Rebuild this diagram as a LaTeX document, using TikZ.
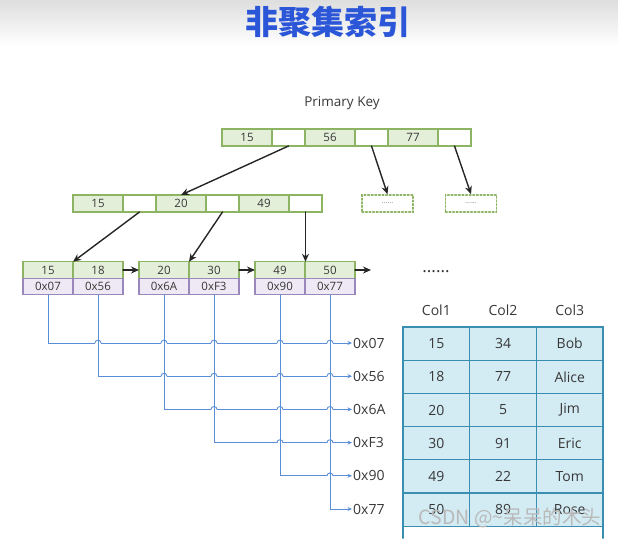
\documentclass[tikz,border=0pt]{standalone}
\usepackage{fontspec}
\setmainfont{Open Sans}
\newfontfamily\cjk{Noto Sans CJK SC}
\usetikzlibrary{positioning, calc}
\usetikzlibrary{arrows.meta}

\definecolor{keyfill}{HTML}{E4EFDA}
\definecolor{keydraw}{HTML}{8DB462}
\definecolor{ptrfill}{HTML}{EEE9F4}
\definecolor{ptrdraw}{HTML}{9A88BC}
\definecolor{tabfill}{HTML}{D3EBF3}
\definecolor{tabdraw}{HTML}{3A8EB2}
\definecolor{linkblue}{HTML}{5A8DD8}
\definecolor{titleblue}{HTML}{2C56D8}
\definecolor{txt}{HTML}{383838}

\tikzset{
  cell/.style={draw, outer sep=0pt, inner sep=0pt, line width=1.2, text=txt,
    font=\fontsize{11.5}{12}\selectfont},
  keycell/.style={cell, draw=keydraw, fill=keyfill, minimum width=50, minimum height=17},
  emptycell/.style={cell, draw=keydraw, fill=white, minimum width=33, minimum height=17},
  leafkey/.style={keycell, minimum height=16.5},
  ptrcell/.style={cell, draw=ptrdraw, fill=ptrfill, minimum width=50, minimum height=16.5},
  dotbox/.style={draw=keydraw, dotted, line width=1.6, minimum width=51, minimum height=17,
    inner sep=0pt, text=gray, font=\fontsize{7.5}{7.5}\selectfont},
  arr/.style={-{Stealth[length=8pt,width=7pt]}, line width=1.4, draw=black!85},
  link/.style={-{Stealth[length=4.5pt,width=4pt]}, line width=0.9, draw=linkblue},
  hop/.style={line width=0.9, draw=linkblue},
  addr/.style={anchor=west, inner sep=1pt, text=txt, font=\fontsize{14}{14}\selectfont},
  tabcell/.style={draw=tabdraw, fill=tabfill, line width=1.3, outer sep=0pt, inner sep=0pt,
    minimum width=66.7, minimum height=33.2, text=txt, font=\fontsize{14}{14}\selectfont},
  head/.style={text=txt, font=\fontsize{14}{14}\selectfont}
}

\begin{document}
\begin{tikzpicture}[x=1pt, y=-1pt, >=stealth, line cap=round]

% Sfondo
\useasboundingbox (0,0) rectangle (618,538);
\shade[top color=black!13, bottom color=white] (0,0) rectangle (618,46);

% Titolo
\node[font=\cjk\bfseries\fontsize{33}{33}\selectfont, text=titleblue] (title) at (328,22) {非聚集索引};

% Radice
\node[font=\fontsize{13.5}{14}\selectfont, text=txt] (pk) at (342,103) {Primary Key};
\node[keycell] (r1) at (247,137.5) {15};
\node[emptycell, right=0pt of r1] (r2) {};
\node[keycell, right=0pt of r2] (r3) {56};
\node[emptycell, right=0pt of r3] (r4) {};
\node[keycell, right=0pt of r4] (r5) {77};
\node[emptycell, right=0pt of r5] (r6) {};

% Livello intermedio
\node[keycell] (m1) at (98,203.5) {15};
\node[emptycell, right=0pt of m1] (m2) {};
\node[keycell, right=0pt of m2] (m3) {20};
\node[emptycell, right=0pt of m3] (m4) {};
\node[keycell, right=0pt of m4] (m5) {49};
\node[emptycell, right=0pt of m5] (m6) {};
\node[dotbox] (d1) at (387.5,203.5) {......};
\node[dotbox] (d2) at (471,203.5) {......};

% Foglie
\node[leafkey] (k1) at (48,270) {15};
\node[leafkey, right=0pt of k1] (k2) {18};
\node[leafkey] (k3) at (164,270) {20};
\node[leafkey, right=0pt of k3] (k4) {30};
\node[leafkey] (k5) at (280,270) {49};
\node[leafkey, right=0pt of k5] (k6) {50};
\node[ptrcell, below=0pt of k1] (p1) {0x07};
\node[ptrcell, below=0pt of k2] (p2) {0x56};
\node[ptrcell, below=0pt of k3] (p3) {0x6A};
\node[ptrcell, below=0pt of k4] (p4) {0xF3};
\node[ptrcell, below=0pt of k5] (p5) {0x90};
\node[ptrcell, below=0pt of k6] (p6) {0x77};
\node[font=\fontsize{17}{17}\selectfont, text=black!80] (more) at (436,272) {......};

% Frecce dell'albero
\draw[arr] (r2.south) -- (m3.north);
\draw[arr] (r4.south) -- (d1.north);
\draw[arr] (r6.south) -- (d2.north);
\draw[arr] (m2.south) -- (k1.north east);
\draw[arr] (m4.south) -- (k3.north east);
\draw[arr] (m6.south) -- (m6.south |- k5.north);
\draw[arr] (k2.east) -- (k3.west);
\draw[arr] (k4.east) -- (k5.west);
\coordinate (nx) at (371,270);
\draw[arr] (k6.east) -- (nx);

% Indirizzi
\foreach \t [count=\i] in {0x07, 0x56, 0x6A, 0xF3, 0x90, 0x77}
  \node[addr] (o\i) at (352,{343+33.2*(\i-1)}) {\t};
\foreach \i in {1,...,6}
  \draw[link] (p\i.south) |- (o\i.west);

% Salti agli incroci
\foreach \i in {1,...,5} {
  \pgfmathtruncatemacro\jfirst{\i+1}
  \foreach \j in {\jfirst,...,6} {
    \coordinate (c) at (p\j.south |- o\i.west);
    \fill[white] ($(c)+(-3,-1.3)$) rectangle ($(c)+(3,1.3)$);
    \draw[hop] ($(c)+(0,-2.2)$) -- ($(c)+(0,2.2)$);
    \draw[hop] ($(c)+(-3,0)$) .. controls ($(c)+(-3,-3.8)$) and ($(c)+(3,-3.8)$) .. ($(c)+(3,0)$);
  }
}

% Tabella
\foreach \a/\b/\c [count=\r] in {15/34/Bob, 18/77/Alice, 20/5/Jim, 30/91/Eric, 49/22/Tom, 50/89/Rose} {
  \node[tabcell] (t\r1) at (436.35,{343.6+33.2*(\r-1)}) {\a};
  \node[tabcell, right=0pt of t\r1] (t\r2) {\b};
  \node[tabcell, right=0pt of t\r2] (t\r3) {\c};
}
\node[head] (h1) at (t11 |- 0,310) {Col1};
\node[head] (h2) at (t12 |- 0,310) {Col2};
\node[head] (h3) at (t13 |- 0,310) {Col3};
\draw[draw=tabdraw, line width=1.3] (t61.south west) -- ++(0,12);
\draw[draw=tabdraw, line width=1.3] (t63.south east) -- ++(0,12);

% Filigrana
\node[font=\cjk\fontsize{19.5}{20}\selectfont, text=gray!55] (wm) at (510,518) {CSDN @\textasciitilde 呆呆的木头};

\end{tikzpicture}
\end{document}
